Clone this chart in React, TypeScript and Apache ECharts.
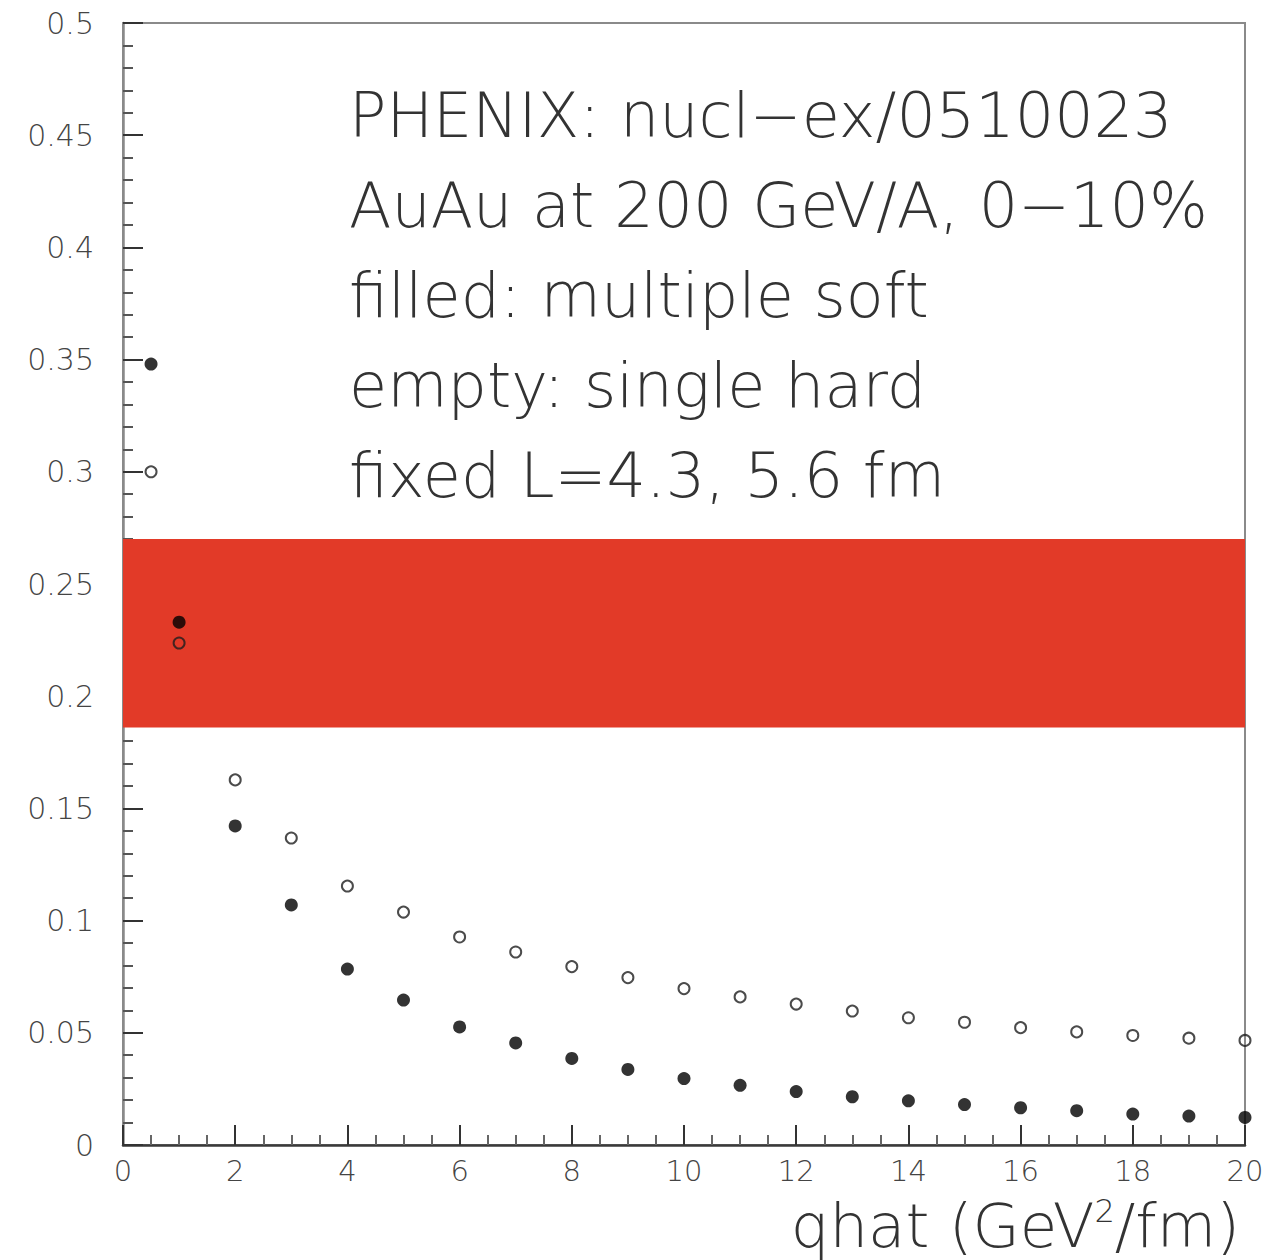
import React, { useEffect, useRef } from "react";
import * as echarts from "echarts";

// qhat values (GeV^2/fm)
const qhat = [0.5, 1, 2, 3, 4, 5, 6, 7, 8, 9, 10, 11, 12, 13, 14, 15, 16, 17, 18, 19, 20];
// filled: multiple soft
const multipleSoft = [
  0.348, 0.233, 0.1422, 0.107, 0.0784, 0.0646, 0.0526, 0.0455, 0.0386, 0.0337,
  0.0296, 0.0266, 0.0238, 0.0215, 0.0197, 0.0180, 0.0166, 0.0153, 0.0138, 0.0129, 0.0123,
];
// empty: single hard
const singleHard = [
  0.300, 0.2237, 0.1627, 0.1368, 0.1154, 0.1038, 0.0927, 0.0860, 0.0795, 0.0746,
  0.0697, 0.0660, 0.0628, 0.0597, 0.0567, 0.0547, 0.0523, 0.0504, 0.0488, 0.0476, 0.0466,
];
// PHENIX band
const bandLow = 0.186;
const bandHigh = 0.27;

const xMin = 0;
const xMax = 20;
const xInterval = 2;
const yMin = 0;
const yMax = 0.5;
const yInterval = 0.05;

const annotationLines = [
  "PHENIX: nucl−ex/0510023",
  "AuAu at 200 GeV/A, 0−10%",
  "filled: multiple soft",
  "empty: single hard",
  "fixed L=4.3, 5.6 fm",
];

const FONT = "'DejaVu Sans', 'Liberation Sans', sans-serif";

export default function App() {
  const ref = useRef<HTMLDivElement>(null);

  useEffect(() => {
    if (!ref.current) return;
    const chart = echarts.init(ref.current, undefined, { renderer: "svg" });

    const soft = qhat.map((x, i) => [x, multipleSoft[i]]);
    const hard = qhat.map((x, i) => [x, singleHard[i]]);

    const option: any = {
      animation: false,
      backgroundColor: "#ffffff",
      grid: {
        left: 123,
        right: 35,
        top: 23,
        bottom: 115,
        show: true,
        borderColor: "#8a8a8a",
        borderWidth: 2,
        backgroundColor: "transparent",
      },
      xAxis: {
        type: "value",
        min: xMin,
        max: xMax,
        interval: xInterval,
        axisLine: { show: true, onZero: false, lineStyle: { color: "#3a3a3a", width: 2.5 } },
        axisTick: { show: true, inside: true, length: 20, lineStyle: { color: "#333", width: 2 } },
        minorTick: { show: true, splitNumber: 4, length: 10, lineStyle: { color: "#666", width: 2 } },
        splitLine: { show: false },
        axisLabel: {
          color: "#444",
          fontFamily: FONT,
          fontSize: 29,
          fontWeight: 200,
          margin: 11,
        },
      },
      yAxis: {
        type: "value",
        min: yMin,
        max: yMax,
        interval: yInterval,
        axisLine: { show: true, onZero: false, lineStyle: { color: "#8a8a8a", width: 2.5 } },
        axisTick: { show: true, inside: true, length: 20, lineStyle: { color: "#333", width: 2 } },
        minorTick: { show: true, splitNumber: 5, length: 10, lineStyle: { color: "#555", width: 2 } },
        splitLine: { show: false },
        axisLabel: {
          color: "#444",
          fontFamily: FONT,
          fontSize: 30,
          fontWeight: 200,
          margin: 29,
          formatter: (v: number) => String(+v.toFixed(2)),
        },
      },
      series: [
        {
          type: "scatter",
          name: "band",
          data: [],
          z: 1,
          markArea: {
            silent: true,
            itemStyle: { color: "#e23a28", opacity: 1 },
            data: [[{ coord: [xMin, bandLow] }, { coord: [xMax, bandHigh] }]],
          },
        },
        {
          type: "scatter",
          name: "multiple soft",
          data: soft,
          symbol: "circle",
          symbolSize: 13,
          itemStyle: { color: "#000000" },
          z: 5,
        },
        {
          type: "scatter",
          name: "single hard",
          data: hard,
          symbol: "circle",
          symbolSize: 11,
          itemStyle: { color: "transparent", borderColor: "#1e1e1e", borderWidth: 2 },
          z: 5,
        },
      ],
      graphic: [
        ...annotationLines.map((t, i) => ({
          type: "text",
          x: 349,
          y: 115 + i * 90,
          z: 10,
          style: {
            text: t,
            fill: "#333333",
            fontFamily: FONT,
            fontSize: 62,
            fontWeight: 200,
            align: "left",
            verticalAlign: "middle",
          },
        })),
        {
          type: "text",
          x: 1240,
          y: 1225,
          z: 10,
          style: {
            text: "qhat (GeV{sup|2}/fm)",
            fill: "#333333",
            fontFamily: FONT,
            fontSize: 61,
            fontWeight: 200,
            align: "right",
            verticalAlign: "middle",
            rich: {
              sup: {
                fontFamily: FONT,
                fontSize: 32,
                fontWeight: 200,
                fill: "#333333",
                verticalAlign: "top",
                padding: [0, 0, 24, 0],
              },
            },
          },
        },
      ],
    };

    chart.setOption(option);
    return () => chart.dispose();
  }, []);

  return (
    <div
      ref={ref}
      style={{ position: "absolute", left: 0, top: 0, width: 1280, height: 1260 }}
    />
  );
}
